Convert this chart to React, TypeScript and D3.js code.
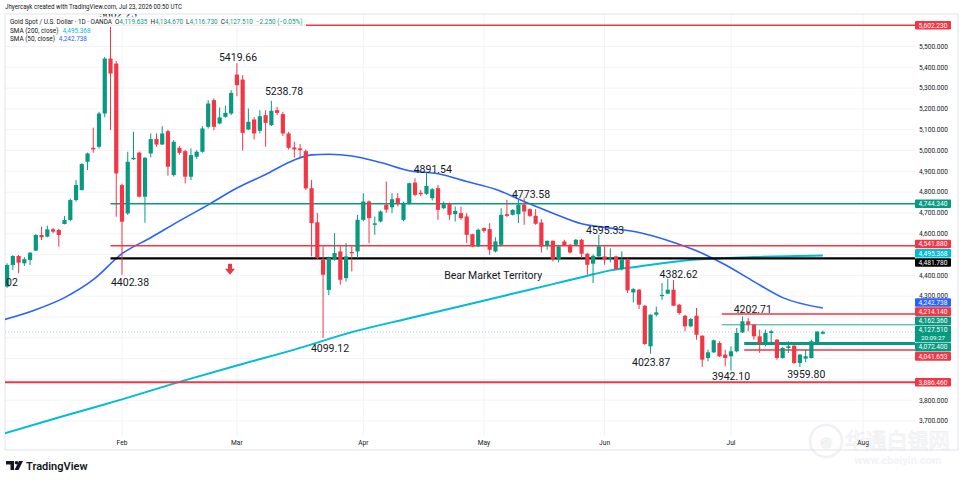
import * as d3 from 'd3'
import React from 'react'

// daily OHLC, Gold Spot / USD (OANDA), first bar Mon Jan 5 2026
const opens = [
  4346, 4450, 4493, 4458, 4474, 4519, 4594, 4586, 4621, 4618, 4647, 4666, 4762, 4810, 4946, 5013, 5018, 5178, 5442, 5418,
  4834, 4698, 4958, 4990, 4778, 4986, 5055, 5029, 5093, 4882, 5013, 4997, 4874, 4970, 4994, 5114, 5242, 5130, 5162, 5178,
  5365, 5341, 5101, 5149, 5095, 5170, 5122, 5194, 5175, 5082, 5015, 5010, 4997, 4819, 4655, 4475, 4330, 4478, 4515, 4387,
  4512, 4515, 4667, 4755, 4643, 4659, 4739, 4727, 4771, 4667, 4747, 4846, 4797, 4792, 4771, 4819, 4723, 4747, 4694, 4699,
  4683, 4598, 4539, 4627, 4622, 4515, 4547, 4694, 4691, 4694, 4739, 4718, 4686, 4654, 4542, 4566, 4478, 4563, 4547, 4547,
  4571, 4504, 4456, 4491, 4491, 4480, 4491, 4430, 4478, 4318, 4331, 4254, 4059, 4211, 4300, 4312, 4331, 4259, 4206, 4155,
  4206, 4110, 4003, 4030, 4075, 4019, 4011, 4035, 4126, 4179, 4163, 4107, 4075, 4123, 4091, 4003, 4051, 4062, 3979, 4000,
  4003, 4078, 4119.635,
]
const highs = [
  4458, 4497, 4498, 4488, 4512, 4598, 4634, 4639, 4628, 4624, 4685, 4770, 4858, 4938, 4990, 5110, 5186, 5450, 5602.23, 5430,
  4840, 4994, 5090, 4995, 4968, 5082, 5082, 5117, 5100, 5050, 5022, 5003, 5010, 5002, 5117, 5242, 5250, 5207, 5215, 5290,
  5419.66, 5362, 5202, 5160, 5194, 5194, 5238.78, 5210, 5186, 5090, 5042, 5031, 5005, 4859, 4700, 4539, 4490, 4603, 4539, 4555,
  4539, 4691, 4795, 4760, 4683, 4712, 4851, 4795, 4795, 4755, 4846, 4867, 4810, 4891.54, 4820, 4835, 4755, 4750, 4731, 4731,
  4699, 4600, 4625, 4630, 4651, 4583, 4723, 4763, 4718, 4763, 4773.58, 4722, 4718, 4670, 4568, 4568, 4547, 4571, 4551, 4575,
  4575, 4508, 4500, 4595.33, 4539, 4530, 4495, 4515, 4482, 4340, 4335, 4258, 4213, 4250, 4363, 4382.62, 4378, 4262, 4210, 4195,
  4243, 4112, 4043, 4091, 4083, 4043, 4059, 4147, 4202.71, 4195, 4165, 4139, 4139, 4139, 4093, 4055, 4083, 4065, 4022, 4043,
  4091, 4131, 4134.67,
]
const lows = [
  4340, 4426, 4410, 4445, 4450, 4516, 4570, 4583, 4602, 4538, 4645, 4660, 4754, 4808, 4906, 4989, 5010, 5160, 5098, 4682,
  4402.38, 4690, 4954, 4775, 4653, 4967, 5018, 5026, 4879, 4875, 4980, 4842, 4858, 4960, 4990, 5106, 5098, 5126, 5158, 5170,
  5261, 5000, 5098, 5053, 5082, 5018, 5118, 5170, 5070, 5005, 4966, 4966, 4810, 4491, 4478, 4099.12, 4305, 4470, 4355, 4370,
  4419, 4483, 4660, 4555, 4595, 4655, 4700, 4699, 4731, 4660, 4740, 4780, 4780, 4787, 4760, 4667, 4718, 4667, 4659, 4667,
  4555, 4535, 4535, 4605, 4499, 4510, 4540, 4680, 4688, 4651, 4643, 4680, 4643, 4510, 4523, 4467, 4462, 4540, 4505, 4544,
  4483, 4403, 4363, 4483, 4451, 4462, 4427, 4424, 4315, 4270, 4238, 4066, 4023.87, 4202, 4282, 4310, 4252, 4211, 4131, 4150,
  4091, 3960, 3987, 4027, 4008, 3963, 3942.1, 4030, 4123, 4131, 4091, 4027, 4059, 4075, 3995, 4000, 4027, 3975, 3959.8, 3983,
  4000, 4075, 4116.73,
]
const closes = [
  4450, 4493, 4461, 4478, 4509, 4594, 4583, 4621, 4610, 4594, 4666, 4762, 4834, 4935, 4986, 5005, 5178, 5442, 5370, 4890,
  4658, 4946, 4965, 4778, 4965, 5055, 5029, 5082, 4922, 5042, 4989, 4874, 4978, 4994, 5106, 5226, 5114, 5159, 5181, 5277,
  5314, 5085, 5138, 5082, 5165, 5133, 5191, 5181, 5082, 5013, 5005, 5002, 4818, 4651, 4485, 4403, 4483, 4507, 4379, 4491,
  4506, 4667, 4755, 4675, 4650, 4707, 4716, 4766, 4747, 4747, 4843, 4787, 4790, 4830, 4814, 4715, 4742, 4691, 4710, 4675,
  4595, 4539, 4619, 4614, 4523, 4563, 4691, 4686, 4715, 4739, 4707, 4686, 4648, 4539, 4566, 4478, 4539, 4544, 4510, 4571,
  4504, 4451, 4494, 4539, 4478, 4487, 4430, 4478, 4328, 4334, 4259, 4070, 4211, 4222, 4306, 4331, 4254, 4219, 4155, 4190,
  4115, 3995, 4030, 4088, 4011, 4003, 4035, 4123, 4179, 4163, 4107, 4075, 4123, 4131, 4003, 4051, 4059, 3979, 4019, 4011,
  4083, 4129.76, 4127.51,
]

const firstDay = '2026-01-05'
const holidays = ['2026-04-03']
const monthLabels = ['Feb', 'Mar', 'Apr', 'May', 'Jun', 'Jul', 'Aug']

// moving averages, sampled along the curves
const sma50Idx = [-1.5, 5, 10, 15, 20, 25, 30, 35, 40, 45, 50, 53, 56, 60, 65, 70, 75, 80, 85, 90, 95, 100, 105, 110, 115, 120, 125, 130, 135, 142]
const sma50 = [4180, 4235, 4293, 4379, 4504, 4581, 4662, 4739, 4820, 4885, 4955, 4979, 4982, 4974, 4942, 4903, 4888, 4851, 4814, 4755, 4699, 4648, 4627, 4606, 4568, 4518, 4451, 4370, 4293, 4242.738]
const sma200Idx = [-1.5, 10, 20, 30, 40, 50, 60, 70, 80, 90, 95, 100, 105, 110, 120, 130, 142]
const sma200 = [3632, 3725, 3804, 3888, 3967, 4043, 4127, 4194, 4259, 4325, 4358, 4391, 4424, 4443, 4476, 4488, 4495.368]

// horizontal levels drawn on the chart
const levelPrice = [5602.23, 4744.34, 4541.88, 4481.78, 3886.46, 4214.14, 4162.36, 4072.4, 4041.653]
const levelFrom = [18, 18, 18, 18, -2, 124.4, 124.4, 128.3, 128.3]
const levelColor = ['#f23645', '#089981', '#f23645', '#000000', '#f23645', '#f23645', '#22ab94', '#089981', '#f23645']
const levelWidth = [1.5, 1.5, 1.5, 2.2, 2, 1.5, 1, 3, 1.5]

// text notes: label, bar position, price at the text's middle
const noteText = ['5602.23', '5419.66', '5238.78', '4402.38', '4099.12', '4891.54', '4773.58', '4595.33', '4382.62', '4023.87', '3942.10', '4202.71', '3959.80', '02', 'Bear Market Territory']
const noteIdx = [19.3, 40.2, 48.2, 21.4, 56.2, 74.1, 91.2, 104.1, 116.9, 112.1, 126.0, 129.8, 139.1, 0.85, 84.6]
const notePrice = [5655, 5448, 5286, 4366, 4049, 4909, 4788, 4615, 4403, 3982, 3915, 4235, 3924, 4365, 4398]

const arrowIdx = 38.8
const arrowPrice = 4427

const lastPrice = 4127.51
const countdown = '20:09:27'

const chartWidth = 964
const chartHeight = 482
const UP = '#089981'
const DOWN = '#f23645'
const TEXT = '#131722'
const FONT = "Roboto, 'Noto Sans', sans-serif"

const fmt = d3.format(',.3f')

function tradingDays(): Date[] {
  const out: Date[] = []
  const d = new Date(firstDay + 'T00:00:00Z')
  const end = new Date('2026-08-31T00:00:00Z')
  while (d <= end) {
    const wd = d.getUTCDay()
    const iso = d.toISOString().slice(0, 10)
    if (wd !== 0 && wd !== 6 && !holidays.includes(iso)) out.push(new Date(d))
    d.setUTCDate(d.getUTCDate() + 1)
  }
  return out
}

const App = () => {
  const plot = { left: 5, top: 14, right: 915, bottom: 436 }
  const x = d3.scaleLinear().domain([0, 142]).range([7.1, 7.1 + 142 * 5.745])
  const y = d3.scaleLinear().domain([3700, 5500]).range([421, 46.5])

  const days = tradingDays()
  const monthName = d3.utcFormat('%b')
  const monthTicks = monthLabels.map((m) => ({ label: m, i: days.findIndex((d) => monthName(d) === m) }))

  const priceTicks = d3.range(3700, 5501, 100)
  const bodyW = 4.2

  const line = d3
    .line<[number, number]>()
    .x((d) => x(d[0]))
    .y((d) => y(d[1]))
    .curve(d3.curveMonotoneX)
  const sma50Path = line(sma50Idx.map((v, i) => [v, sma50[i]] as [number, number]))
  const sma200Path = line(sma200Idx.map((v, i) => [v, sma200[i]] as [number, number]))

  // right-axis badges, pushed apart where they overlap
  const badges = [
    { v: levelPrice[0], c: DOWN, h: 8.6, sub: '' },
    { v: levelPrice[1], c: UP, h: 8.6, sub: '' },
    { v: levelPrice[2], c: DOWN, h: 8.6, sub: '' },
    { v: sma200[sma200.length - 1], c: '#00bcd4', h: 8.6, sub: '' },
    { v: levelPrice[3], c: '#000000', h: 8.6, sub: '' },
    { v: sma50[sma50.length - 1], c: '#2962ff', h: 8.6, sub: '' },
    { v: levelPrice[5], c: DOWN, h: 8.6, sub: '' },
    { v: levelPrice[6], c: UP, h: 8.6, sub: '' },
    { v: lastPrice, c: UP, h: 16.5, sub: countdown },
    { v: levelPrice[7], c: UP, h: 8.6, sub: '' },
    { v: levelPrice[8], c: DOWN, h: 8.6, sub: '' },
    { v: levelPrice[4], c: DOWN, h: 8.6, sub: '' },
  ].map((b) => ({ ...b, y: y(b.v) }))
  for (let k = 0; k < 60; k++) {
    badges.sort((a, b) => a.y - b.y)
    for (let j = 0; j < badges.length - 1; j++) {
      const a = badges[j]
      const b = badges[j + 1]
      const ov = a.y + a.h / 2 + 0.6 - (b.y - b.h / 2)
      if (ov > 0) {
        a.y -= ov / 2
        b.y += ov / 2
      }
    }
  }

  const ax = x(arrowIdx)
  const ay = y(arrowPrice)

  return (
    <svg
      width={chartWidth}
      height={chartHeight}
      style={{ position: 'absolute', left: 0, top: 0, background: '#fff' }}
      fontFamily={FONT}
    >
      <defs>
        <clipPath id="plot">
          <rect x={plot.left} y={plot.top} width={plot.right - plot.left} height={plot.bottom - plot.top} />
        </clipPath>
      </defs>
      <rect x={0} y={0} width={chartWidth} height={chartHeight} fill="#fff" />

      {/* grid */}
      <g stroke="#f0f3fa" strokeWidth={1}>
        {priceTicks.map((p) => (
          <line key={p} x1={plot.left} x2={plot.right} y1={y(p)} y2={y(p)} />
        ))}
        {monthTicks.map((m) => (
          <line key={m.label} x1={x(m.i)} x2={x(m.i)} y1={plot.top} y2={plot.bottom} />
        ))}
      </g>

      {/* panel border */}
      <rect x={5} y={14} width={953} height={436} fill="none" stroke="#e0e3eb" strokeWidth={1} />

      {/* watermark */}
      <g opacity={0.5}>
        <circle cx={826} cy={441} r={16} fill="none" stroke="#e3e5ea" strokeWidth={2.5} />
        <text x={826} y={448} fontSize={19} textAnchor="middle" fill="none" stroke="#e3e5ea" strokeWidth={1.6} fontWeight={700}>
          e
        </text>
        <text x={897} y={448} fontSize={21} textAnchor="middle" fill="#fafbfc" stroke="#e0e2e7" strokeWidth={0.8} fontFamily="'Noto Sans CJK SC'">
          华通白银网
        </text>
        <text x={898} y={464} fontSize={11} textAnchor="middle" fill="#e7e9ed" fontWeight={700}>
          www.ebaiyin.com
        </text>
      </g>

      <g clipPath="url(#plot)">
        {/* moving averages */}
        <path d={sma200Path || ''} fill="none" stroke="#00bcd4" strokeWidth={2} />
        <path d={sma50Path || ''} fill="none" stroke="#2962ff" strokeWidth={1.6} />

        {/* last price line */}
        <line x1={plot.left} x2={plot.right} y1={y(lastPrice)} y2={y(lastPrice)} stroke={UP} strokeWidth={0.8} strokeDasharray="1 2" opacity={0.5} />

        {/* levels */}
        {levelPrice.map((p, i) => (
          <line
            key={p}
            x1={x(levelFrom[i])}
            x2={plot.right}
            y1={y(p)}
            y2={y(p)}
            stroke={levelColor[i]}
            strokeWidth={levelWidth[i]}
          />
        ))}

        {/* candles */}
        {opens.map((o, i) => {
          const c = closes[i]
          const col = c >= o ? UP : DOWN
          const cx = x(i)
          const top = y(Math.max(o, c))
          const h = Math.max(1, y(Math.min(o, c)) - top)
          return (
            <g key={i}>
              <line x1={cx} x2={cx} y1={y(highs[i])} y2={y(lows[i])} stroke={col} strokeWidth={1} />
              <rect x={cx - bodyW / 2} y={top} width={bodyW} height={h} fill={col} />
            </g>
          )
        })}

        {/* notes */}
        {noteText.map((t, i) => (
          <text key={t + i} x={x(noteIdx[i])} y={y(notePrice[i])} dy="0.35em" fontSize={10.5} textAnchor="middle" fill={TEXT}>
            {t}
          </text>
        ))}

        {/* down arrow */}
        <path d={`M${ax - 2},${ay - 6} h4 v5 h3 l-5,6 l-5,-6 h3 z`} fill="#e8394a" />
      </g>

      {/* price axis labels */}
      <g fontSize={6.6} fill={TEXT}>
        {priceTicks.map((p) =>
          badges.some((b) => Math.abs(b.y - y(p)) < b.h / 2 + 1.5) ? null : (
            <text key={p} x={919} y={y(p)} dy="0.35em">
              {fmt(p)}
            </text>
          ),
        )}
      </g>

      {/* badges */}
      {badges.map((b, i) => (
        <g key={i}>
          <rect x={915} y={b.y - b.h / 2} width={36} height={b.h} rx={1} fill={b.c} />
          <text x={933} y={b.sub ? b.y - b.h / 4 : b.y} dy="0.35em" fontSize={6.6} textAnchor="middle" fill="#fff">
            {fmt(b.v)}
          </text>
          {b.sub ? (
            <text x={933} y={b.y + b.h / 4} dy="0.35em" fontSize={6.2} textAnchor="middle" fill="#fff">
              {b.sub}
            </text>
          ) : null}
        </g>
      ))}

      {/* time axis */}
      <g fontSize={6.6} fill={TEXT} textAnchor="middle">
        {monthTicks.map((m) => (
          <text key={m.label} x={x(m.i)} y={443} dy="0.35em">
            {m.label}
          </text>
        ))}
      </g>

      {/* header / legend */}
      <text x={5} y={7} dy="0.35em" fontSize={7} fill={TEXT} textLength={177} lengthAdjust="spacingAndGlyphs">
        Jhyercayk created with TradingView.com, Jul 23, 2026 00:50 UTC
      </text>
      <rect x={7} y={16.5} width={299} height={10.5} fill="#fff" opacity={0.9} />
      <text x={10} y={22} dy="0.35em" fontSize={6.4} fill={TEXT}>
        Gold Spot / U.S. Dollar · 1D · OANDA
        <tspan dx={3}>O</tspan>
        <tspan fill={UP}>4,119.635</tspan>
        <tspan dx={3}>H</tspan>
        <tspan fill={UP}>4,134.670</tspan>
        <tspan dx={3}>L</tspan>
        <tspan fill={UP}>4,116.730</tspan>
        <tspan dx={3}>C</tspan>
        <tspan fill={UP}>4,127.510</tspan>
        <tspan dx={3} fill={UP}>−2.250 (−0.05%)</tspan>
      </text>
      <text x={10} y={30.5} dy="0.35em" fontSize={6.4} fill={TEXT}>
        SMA (200, close)
        <tspan dx={4} fill="#00bcd4">4,495.368</tspan>
      </text>
      <text x={10} y={39} dy="0.35em" fontSize={6.4} fill={TEXT}>
        SMA (50, close)
        <tspan dx={4} fill="#2962ff">4,242.738</tspan>
      </text>

      {/* TradingView mark */}
      <g fill={TEXT}>
        <path d="M6,461 h8 v9 h-3.5 v-5.5 h-4.5 z" />
        <circle cx={16.5} cy={462.8} r={1.8} />
        <path d="M19,461 h4 l-4.5,9 h-4 z" />
      </g>
      <text x={26} y={466} dy="0.35em" fontSize={11} fontWeight={600} fill={TEXT}>
        TradingView
      </text>
    </svg>
  )
}

export default App
